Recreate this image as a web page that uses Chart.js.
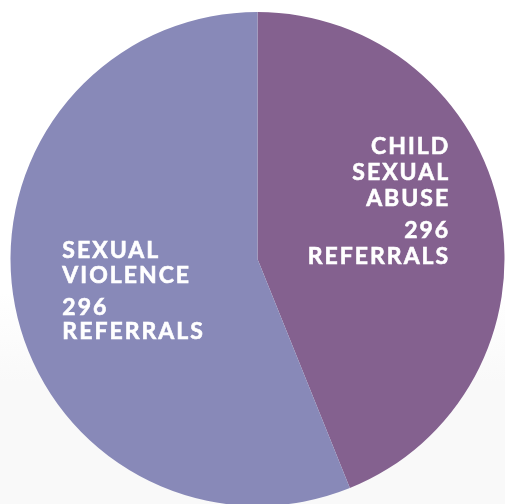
<!DOCTYPE html>
<html>
<head>
<meta charset="utf-8">
<script src="https://cdn.jsdelivr.net/npm/chart.js@4"></script>
<style>
  html, body { margin: 0; padding: 0; overflow: hidden; }
  body { width: 505px; height: 504px; background: linear-gradient(to bottom, #ffffff 58%, #f9f9f9 76%); }
  #wrap { width: 505px; height: 504px; }
</style>
</head>
<body>
<div id="wrap"><canvas id="pieChart" width="505" height="504"></canvas></div>
<script>
// slices, clockwise from 12 o'clock
const categories = ['CHILD SEXUAL ABUSE', 'SEXUAL VIOLENCE'];
const shares = [43.9, 56.1]; // slice sizes
const labelLines = [
  ['CHILD', 'SEXUAL', 'ABUSE', '296', 'REFERRALS'],
  ['SEXUAL', 'VIOLENCE', '296', 'REFERRALS'],
];
const colors = ['#84618f', '#8889b8'];

const sliceLabels = {
  id: 'sliceLabels',
  afterDatasetsDraw(chart) {
    const ctx = chart.ctx;
    const arcs = chart.getDatasetMeta(0).data;
    ctx.save();
    ctx.fillStyle = '#ffffff';
    ctx.strokeStyle = '#ffffff';
    ctx.lineWidth = 0.6;
    ctx.font = 'bold 23px Lato';
    ctx.letterSpacing = '2px';
    ctx.textBaseline = 'middle';

    const put = (t, x, y) => {
      ctx.fillText(t, x, y);
      ctx.strokeText(t, x, y);
    };

    // right slice: right aligned
    let a = arcs[0];
    let r = a.outerRadius;
    let gaps = [0, 26, 52, 84, 110];
    ctx.textAlign = 'right';
    labelLines[0].forEach((t, i) => {
      put(t, a.x + r * 0.772 + 2, a.y - r * 0.455 + gaps[i]);
    });

    // left slice: left aligned
    a = arcs[1];
    gaps = [0, 25, 57, 81];
    ctx.textAlign = 'left';
    labelLines[1].forEach((t, i) => {
      put(t, a.x - r * 0.79, a.y - r * 0.036 + gaps[i]);
    });
    ctx.restore();
  }
};

const ctx1 = document.getElementById('pieChart').getContext('2d');
const myChart1 = new Chart(ctx1, {
  type: 'pie',
  data: {
    labels: categories,
    datasets: [{
      data: shares,
      backgroundColor: colors,
      borderWidth: 0,
      radius: 247,
      clip: false,
    }],
  },
  options: {
    responsive: false,
    animation: false,
    layout: {
      padding: { left: 10, right: 0, top: 14, bottom: 0 },
    },
    plugins: {
      legend: { display: false },
      tooltip: { enabled: false },
    },
  },
  plugins: [sliceLabels],
});
</script>
</body>
</html>
